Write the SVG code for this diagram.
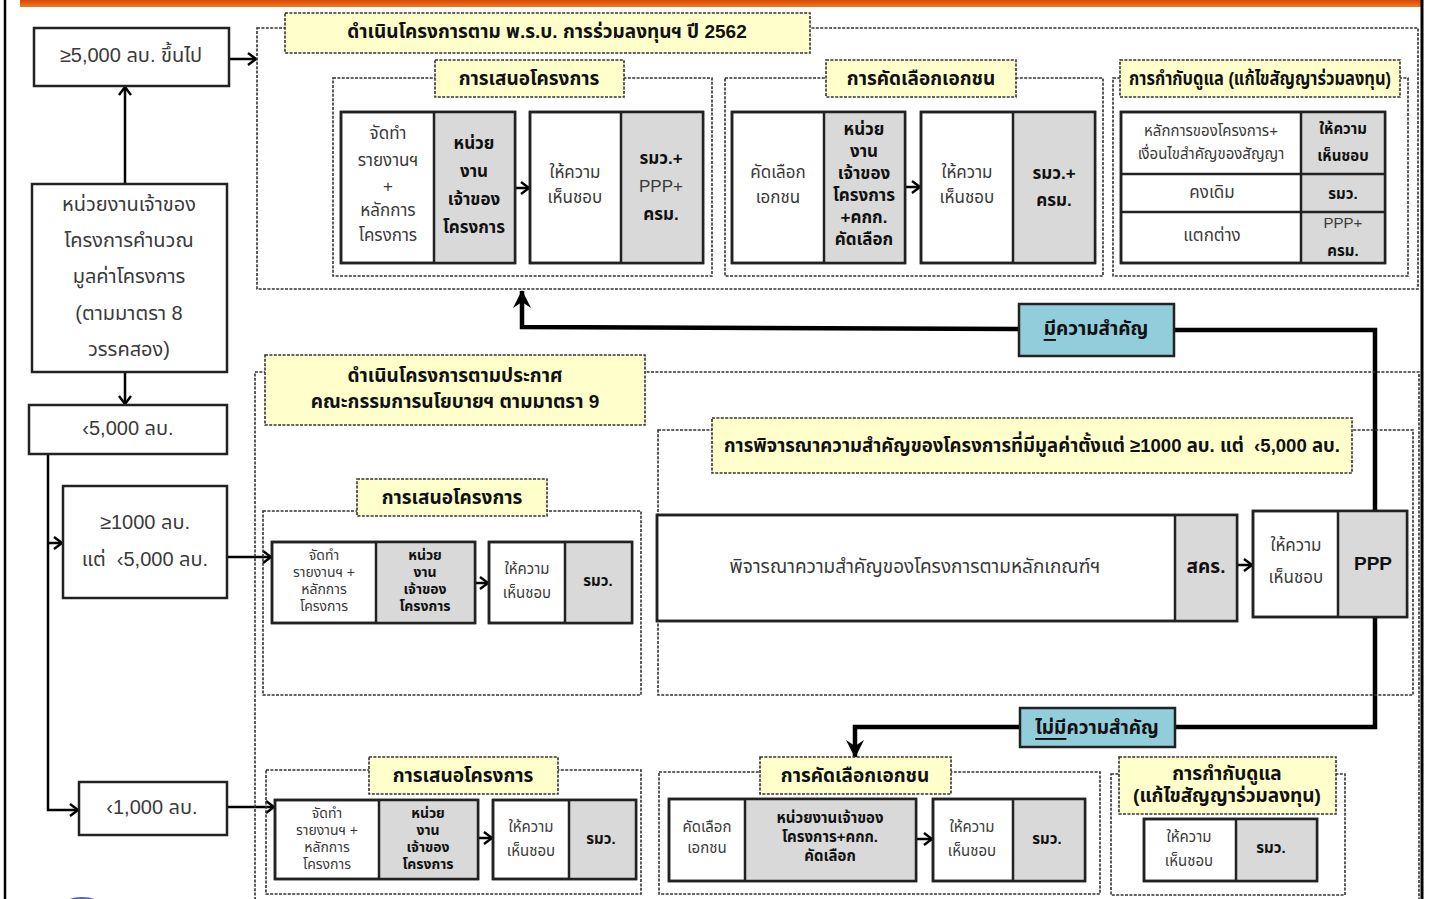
<svg xmlns="http://www.w3.org/2000/svg" width="1429" height="899" viewBox="0 0 1429 899">
<defs>
<linearGradient id="og" x1="0" y1="0" x2="0" y2="1"><stop offset="0" stop-color="#d9470c"/><stop offset="1" stop-color="#f27a1c"/></linearGradient>
<marker id="ah" markerUnits="userSpaceOnUse" markerWidth="12" markerHeight="14" refX="10" refY="7" orient="auto"><path d="M2,1 L10,7 L2,13" fill="none" stroke="#000" stroke-width="2.4"/></marker>
<marker id="ahb" markerUnits="userSpaceOnUse" markerWidth="20" markerHeight="20" refX="17" refY="10" orient="auto"><path d="M0,1 L18,10 L0,19 L6,10 z" fill="#000"/></marker>
</defs>
<style>
text{font-family:"Liberation Sans","Noto Sans Thai","Tahoma",sans-serif;text-anchor:middle;dominant-baseline:central;fill:#3a3a3a}
.b{font-weight:bold;fill:#111}
.s20{font-size:20px}.s19{font-size:19px}.s17{font-size:17px}.s15{font-size:15px}.s14{font-size:14px}
.box{fill:#fff;stroke:#222;stroke-width:2.5}
.out{fill:none;stroke:#222;stroke-width:2.5}
.gray{fill:#d9d9d9}
.dash{fill:none;stroke:#333;stroke-width:1.6;stroke-dasharray:3 1.4}
.ybox{fill:#ffffcc;stroke:#333;stroke-width:1.6;stroke-dasharray:3 1.4}
.lbl{fill:#92cddc;stroke:#222;stroke-width:2.5}
.conn{stroke:#000;stroke-width:2.5;fill:none}
.thick{stroke-width:4.5}
</style>
<rect x="0" y="0" width="1429" height="899" fill="#fff"/>
<g id="frame">
<rect x="20" y="0" width="1401" height="7" fill="url(#og)"/>
<line x1="5" y1="0" x2="5" y2="899" stroke="#000" stroke-width="2.5"/>
<line x1="1422" y1="0" x2="1422" y2="899" stroke="#000" stroke-width="3"/>
<ellipse cx="82" cy="904" rx="18" ry="7" fill="#5b5bc8"/>
</g>

<g id="connectors">
<line class="conn" x1="229" y1="59" x2="256" y2="59" marker-end="url(#ah)"/>
<line class="conn" x1="125" y1="184" x2="125" y2="87" marker-end="url(#ah)"/>
<line class="conn" x1="125" y1="372" x2="125" y2="404" marker-end="url(#ah)"/>
<polyline class="conn" points="48,454 48,810 78,810" marker-end="url(#ah)"/>
<line class="conn" x1="48" y1="543" x2="62" y2="543" marker-end="url(#ah)"/>
<line class="conn" x1="227" y1="557" x2="271" y2="557" marker-end="url(#ah)"/>
<line class="conn" x1="227" y1="807" x2="274" y2="807" marker-end="url(#ah)"/>
<line class="conn" x1="515" y1="188" x2="529" y2="188" marker-end="url(#ah)"/>
<line class="conn" x1="905" y1="187" x2="920" y2="187" marker-end="url(#ah)"/>
<line class="conn" x1="475" y1="583" x2="488" y2="583" marker-end="url(#ah)"/>
<line class="conn" x1="1237" y1="565" x2="1252" y2="565" marker-end="url(#ah)"/>
<line class="conn" x1="478" y1="838" x2="492" y2="838" marker-end="url(#ah)"/>
<line class="conn" x1="916" y1="839" x2="932" y2="839" marker-end="url(#ah)"/>
<polyline class="conn thick" points="1375,511 1375,330 1173,330"/>
<polyline class="conn thick" points="1019,329 522,327 522,291" marker-end="url(#ahb)"/>
<polyline class="conn thick" points="1375,617 1375,727 1173,727"/>
<polyline class="conn thick" points="1019,727 855,727 855,757" marker-end="url(#ahb)"/>
</g>

<g id="n-left-5000up">
<rect class="box" x="34" y="28" width="195" height="58"/>
<text class="s20" x="131" y="55">≥5,000 ลบ. ขึ้นไป</text>
</g>
<g id="n-left-calc">
<rect class="box" x="32" y="184" width="195" height="188"/>
<text class="s20"><tspan x="129" y="204">หน่วยงานเจ้าของ</tspan><tspan x="129" y="240">โครงการคำนวณ</tspan><tspan x="129" y="276">มูลค่าโครงการ</tspan><tspan x="129" y="313">(ตามมาตรา 8</tspan><tspan x="129" y="349">วรรคสอง)</tspan></text>
</g>
<g id="n-left-lt5000">
<rect class="box" x="29" y="405" width="198" height="49"/>
<text class="s20" x="128" y="428">‹5,000 ลบ.</text>
</g>
<g id="n-left-1000-5000">
<rect class="box" x="63" y="486" width="164" height="112"/>
<text class="s20"><tspan x="145" y="522">≥1000 ลบ.</tspan><tspan x="145" y="559">แต่&#160; ‹5,000 ลบ.</tspan></text>
</g>
<g id="n-left-lt1000">
<rect class="box" x="79" y="782" width="148" height="53"/>
<text class="s20" x="152" y="807">‹1,000 ลบ.</text>
</g>

<!-- TOP SECTION -->
<g id="n-top-frame">
<rect class="dash" x="257" y="28" width="1161" height="261"/>
<rect class="ybox" x="285" y="13" width="525" height="40"/>
<text class="s19 b" x="547" y="31">ดำเนินโครงการตาม พ.ร.บ. การร่วมลงทุนฯ ปี 2562</text>
</g>
<g id="n-top-propose">
<rect class="dash" x="333" y="78" width="379" height="198"/>
<rect class="ybox" x="435" y="60" width="189" height="37"/>
<text class="s19 b" x="529" y="78">การเสนอโครงการ</text>
<rect class="box" x="341" y="112" width="174" height="151"/>
<rect class="gray" x="434" y="112" width="81" height="151"/>
<rect class="out" x="341" y="112" width="174" height="151"/>
<line class="out" x1="434" y1="112" x2="434" y2="263"/>
<text class="s17"><tspan x="388" y="133">จัดทำ</tspan><tspan x="388" y="160">รายงานฯ</tspan><tspan x="388" y="186">+</tspan><tspan x="388" y="210">หลักการ</tspan><tspan x="388" y="235">โครงการ</tspan></text>
<text class="s17 b"><tspan x="474" y="143">หน่วย</tspan><tspan x="474" y="171">งาน</tspan><tspan x="474" y="199">เจ้าของ</tspan><tspan x="474" y="227">โครงการ</tspan></text>
<rect class="box" x="530" y="112" width="173" height="151"/>
<rect class="gray" x="621" y="112" width="82" height="151"/>
<rect class="out" x="530" y="112" width="173" height="151"/>
<line class="out" x1="621" y1="112" x2="621" y2="263"/>
<text class="s17"><tspan x="575" y="172">ให้ความ</tspan><tspan x="575" y="197">เห็นชอบ</tspan></text>
<text class="s17"><tspan class="b" x="661" y="158">รมว.+</tspan><tspan x="661" y="186">PPP+</tspan><tspan class="b" x="661" y="214">ครม.</tspan></text>
</g>
<g id="n-top-select">
<rect class="dash" x="725" y="78" width="378" height="198"/>
<rect class="ybox" x="826" y="60" width="190" height="37"/>
<text class="s19 b" x="921" y="78">การคัดเลือกเอกชน</text>
<rect class="box" x="732" y="112" width="173" height="151"/>
<rect class="gray" x="824" y="112" width="81" height="151"/>
<rect class="out" x="732" y="112" width="173" height="151"/>
<line class="out" x1="824" y1="112" x2="824" y2="263"/>
<text class="s17"><tspan x="778" y="172">คัดเลือก</tspan><tspan x="778" y="197">เอกชน</tspan></text>
<text class="s17 b"><tspan x="864" y="129">หน่วย</tspan><tspan x="864" y="151">งาน</tspan><tspan x="864" y="173">เจ้าของ</tspan><tspan x="864" y="195">โครงการ</tspan><tspan x="864" y="217">+คกก.</tspan><tspan x="864" y="239">คัดเลือก</tspan></text>
<rect class="box" x="921" y="112" width="174" height="151"/>
<rect class="gray" x="1013" y="112" width="82" height="151"/>
<rect class="out" x="921" y="112" width="174" height="151"/>
<line class="out" x1="1013" y1="112" x2="1013" y2="263"/>
<text class="s17"><tspan x="967" y="172">ให้ความ</tspan><tspan x="967" y="197">เห็นชอบ</tspan></text>
<text class="s17 b"><tspan x="1054" y="173">รมว.+</tspan><tspan x="1054" y="200">ครม.</tspan></text>
</g>
<g id="n-top-supervise">
<rect class="dash" x="1113" y="78" width="295" height="198"/>
<rect class="ybox" x="1120" y="60" width="280" height="37"/>
<text class="s19 b" x="1260" y="78" textLength="262" lengthAdjust="spacingAndGlyphs">การกำกับดูแล (แก้ไขสัญญาร่วมลงทุน)</text>
<rect class="box" x="1121" y="112" width="264" height="151"/>
<rect class="gray" x="1301" y="112" width="84" height="151"/>
<rect class="out" x="1121" y="112" width="264" height="151"/>
<line class="out" x1="1301" y1="112" x2="1301" y2="263"/>
<line class="out" x1="1121" y1="174" x2="1385" y2="174"/>
<line class="out" x1="1121" y1="212" x2="1385" y2="212"/>
<text class="s15"><tspan x="1211" y="130">หลักการของโครงการ+</tspan><tspan x="1211" y="153">เงื่อนไขสำคัญของสัญญา</tspan></text>
<text class="s15 b"><tspan x="1343" y="128">ให้ความ</tspan><tspan x="1343" y="155">เห็นชอบ</tspan></text>
<text class="s17" x="1212" y="192">คงเดิม</text>
<text class="s15 b" x="1343" y="193">รมว.</text>
<text class="s17" x="1212" y="235">แตกต่าง</text>
<text class="s15"><tspan x="1343" y="222">PPP+</tspan><tspan class="b" x="1343" y="250">ครม.</tspan></text>
</g>

<!-- MIDDLE SECTION -->
<g id="n-mid-frame">
<path class="dash" d="M1419,905 L1419,372 L255,372 L255,905"/>
<rect class="ybox" x="265" y="355" width="380" height="70"/>
<text class="s19 b"><tspan x="455" y="375">ดำเนินโครงการตามประกาศ</tspan><tspan x="455" y="401">คณะกรรมการนโยบายฯ ตามมาตรา 9</tspan></text>
</g>
<g id="n-mid-propose">
<rect class="dash" x="263" y="511" width="378" height="184"/>
<rect class="ybox" x="357" y="479" width="190" height="37"/>
<text class="s19 b" x="452" y="497">การเสนอโครงการ</text>
<rect class="box" x="272" y="542" width="203" height="81"/>
<rect class="gray" x="376" y="542" width="99" height="81"/>
<rect class="out" x="272" y="542" width="203" height="81"/>
<line class="out" x1="376" y1="542" x2="376" y2="623"/>
<text class="s14"><tspan x="324" y="555">จัดทำ</tspan><tspan x="324" y="572">รายงานฯ +</tspan><tspan x="324" y="589">หลักการ</tspan><tspan x="324" y="606">โครงการ</tspan></text>
<text class="s14 b"><tspan x="425" y="555">หน่วย</tspan><tspan x="425" y="572">งาน</tspan><tspan x="425" y="589">เจ้าของ</tspan><tspan x="425" y="606">โครงการ</tspan></text>
<rect class="box" x="489" y="542" width="143" height="81"/>
<rect class="gray" x="565" y="542" width="67" height="81"/>
<rect class="out" x="489" y="542" width="143" height="81"/>
<line class="out" x1="565" y1="542" x2="565" y2="623"/>
<text class="s15"><tspan x="527" y="568">ให้ความ</tspan><tspan x="527" y="592">เห็นชอบ</tspan></text>
<text class="s15 b" x="598" y="580">รมว.</text>
</g>
<g id="n-mid-consider">
<rect class="dash" x="658" y="430" width="755" height="265"/>
<rect class="ybox" x="712" y="418" width="640" height="55"/>
<text class="s19 b" x="1032" y="445" textLength="616" lengthAdjust="spacingAndGlyphs">การพิจารณาความสำคัญของโครงการที่มีมูลค่าตั้งแต่ ≥1000 ลบ. แต่&#160; ‹5,000 ลบ.</text>
<rect class="box" x="657" y="515" width="580" height="106"/>
<rect class="gray" x="1175" y="515" width="62" height="106"/>
<rect class="out" x="657" y="515" width="580" height="106"/>
<line class="out" x1="1175" y1="515" x2="1175" y2="621"/>
<text class="s19" x="915" y="566">พิจารณาความสำคัญของโครงการตามหลักเกณฑ์ฯ</text>
<text class="s19 b" x="1206" y="566">สคร.</text>
<rect class="box" x="1253" y="511" width="154" height="106"/>
<rect class="gray" x="1338" y="511" width="69" height="106"/>
<rect class="out" x="1253" y="511" width="154" height="106"/>
<line class="out" x1="1338" y1="511" x2="1338" y2="617"/>
<text class="s17"><tspan x="1296" y="545">ให้ความ</tspan><tspan x="1296" y="577">เห็นชอบ</tspan></text>
<text class="s19 b" x="1373" y="563">PPP</text>
</g>
<g id="n-label-yes">
<rect class="lbl" x="1019" y="304" width="155" height="52"/>
<text class="s19 b" x="1096" y="328"><tspan text-decoration="underline">มี</tspan>ความสำคัญ</text>
</g>
<g id="n-label-no">
<rect class="lbl" x="1020" y="708" width="155" height="39"/>
<text class="s19 b" x="1097" y="727"><tspan text-decoration="underline">ไม่มี</tspan>ความสำคัญ</text>
</g>

<!-- BOTTOM SECTION -->
<g id="n-bot-propose">
<rect class="dash" x="266" y="770" width="375" height="124"/>
<rect class="ybox" x="369" y="757" width="189" height="37"/>
<text class="s19 b" x="463" y="775">การเสนอโครงการ</text>
<rect class="box" x="275" y="800" width="203" height="79"/>
<rect class="gray" x="379" y="800" width="99" height="79"/>
<rect class="out" x="275" y="800" width="203" height="79"/>
<line class="out" x1="379" y1="800" x2="379" y2="879"/>
<text class="s14"><tspan x="327" y="813">จัดทำ</tspan><tspan x="327" y="830">รายงานฯ +</tspan><tspan x="327" y="847">หลักการ</tspan><tspan x="327" y="864">โครงการ</tspan></text>
<text class="s14 b"><tspan x="428" y="813">หน่วย</tspan><tspan x="428" y="830">งาน</tspan><tspan x="428" y="847">เจ้าของ</tspan><tspan x="428" y="864">โครงการ</tspan></text>
<rect class="box" x="493" y="800" width="143" height="79"/>
<rect class="gray" x="569" y="800" width="67" height="79"/>
<rect class="out" x="493" y="800" width="143" height="79"/>
<line class="out" x1="569" y1="800" x2="569" y2="879"/>
<text class="s15"><tspan x="531" y="826">ให้ความ</tspan><tspan x="531" y="850">เห็นชอบ</tspan></text>
<text class="s15 b" x="601" y="838">รมว.</text>
</g>
<g id="n-bot-select">
<rect class="dash" x="659" y="772" width="441" height="122"/>
<rect class="ybox" x="760" y="757" width="191" height="37"/>
<text class="s19 b" x="855" y="775">การคัดเลือกเอกชน</text>
<rect class="box" x="669" y="799" width="247" height="82"/>
<rect class="gray" x="745" y="799" width="171" height="82"/>
<rect class="out" x="669" y="799" width="247" height="82"/>
<line class="out" x1="745" y1="799" x2="745" y2="881"/>
<text class="s15"><tspan x="707" y="826">คัดเลือก</tspan><tspan x="707" y="847">เอกชน</tspan></text>
<text class="s15 b"><tspan x="830" y="817">หน่วยงานเจ้าของ</tspan><tspan x="830" y="836">โครงการ+คกก.</tspan><tspan x="830" y="855">คัดเลือก</tspan></text>
<rect class="box" x="933" y="799" width="152" height="82"/>
<rect class="gray" x="1013" y="799" width="72" height="82"/>
<rect class="out" x="933" y="799" width="152" height="82"/>
<line class="out" x1="1013" y1="799" x2="1013" y2="881"/>
<text class="s15"><tspan x="972" y="826">ให้ความ</tspan><tspan x="972" y="850">เห็นชอบ</tspan></text>
<text class="s15 b" x="1047" y="838">รมว.</text>
</g>
<g id="n-bot-supervise">
<rect class="dash" x="1111" y="774" width="234" height="121"/>
<rect class="ybox" x="1119" y="757" width="217" height="57"/>
<text class="s19 b"><tspan x="1227" y="773">การกำกับดูแล</tspan><tspan x="1227" y="795">(แก้ไขสัญญาร่วมลงทุน)</tspan></text>
<rect class="box" x="1144" y="819" width="173" height="62"/>
<rect class="gray" x="1236" y="819" width="81" height="62"/>
<rect class="out" x="1144" y="819" width="173" height="62"/>
<line class="out" x1="1236" y1="819" x2="1236" y2="881"/>
<text class="s15"><tspan x="1189" y="836">ให้ความ</tspan><tspan x="1189" y="860">เห็นชอบ</tspan></text>
<text class="s15 b" x="1271" y="847">รมว.</text>
</g>
</svg>
